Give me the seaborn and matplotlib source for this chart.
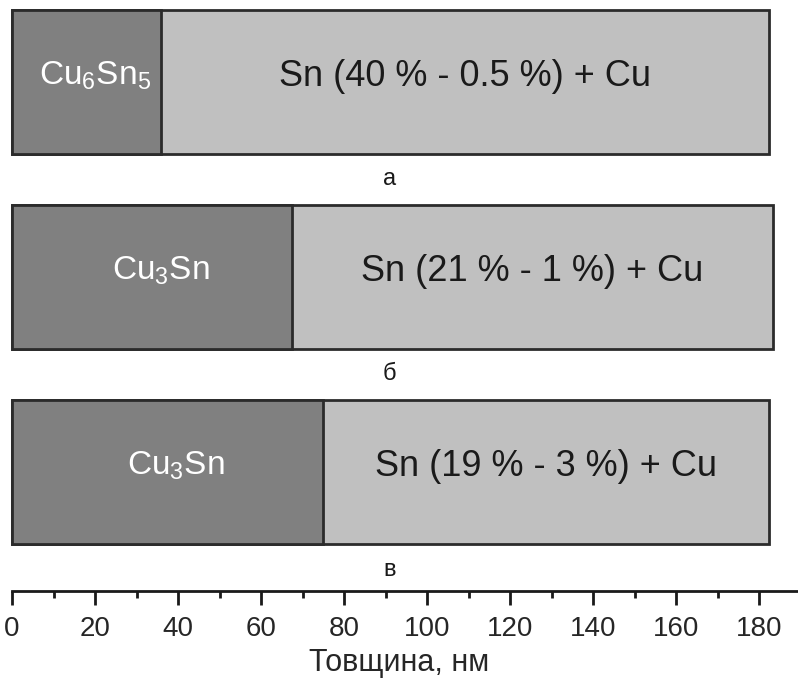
import numpy as np
import pandas as pd
import matplotlib
matplotlib.use("Agg")
import matplotlib.pyplot as plt
from matplotlib.ticker import MultipleLocator
import seaborn as sns

# layer data (nm)
samples = ["а", "б", "в"]
phase_labels = ["Cu$_6$Sn$_5$", "Cu$_3$Sn", "Cu$_3$Sn"]
phase_thickness = [36, 67.5, 75]
total_thickness = [182.5, 183.3, 182.5]
rest_labels = ["Sn (40 % - 0.5 %) + Cu", "Sn (21 % - 1 %) + Cu", "Sn (19 % - 3 %) + Cu"]

sns.set_style("white")
plt.rcParams["font.family"] = ["Liberation Sans", "DejaVu Sans"]
plt.rcParams["mathtext.default"] = "regular"

df = pd.DataFrame({"sample": samples, "phase": phase_thickness, "total": total_thickness})

fig = plt.figure(figsize=(7.98, 6.84), dpi=100)
ax = fig.add_axes([0, 93 / 684, 1, 591 / 684])

edge = "#2b2b2b"
sns.barplot(data=df, x="total", y="sample", orient="h", color="#c0c0c0", saturation=1,
            width=0.74, edgecolor=edge, linewidth=2, ax=ax)
sns.barplot(data=df, x="phase", y="sample", orient="h", color="#808080", saturation=1,
            width=0.74, edgecolor=edge, linewidth=2, ax=ax)

for i in range(len(samples)):
    ax.text(phase_thickness[i] / 2 + 2, i - 0.03, phase_labels[i], color="white",
            fontsize=24, ha="center", va="center")
    ax.text((phase_thickness[i] + total_thickness[i]) / 2, i - 0.03, rest_labels[i],
            color="#1a1a1a", fontsize=26, ha="center", va="center")
    ax.text(91, i + 0.5, samples[i], fontsize=17, ha="center", va="center", color="#1a1a1a")

ax.set_xlim(-12 / 4.15, (798 - 12) / 4.15)
ax.set_ylim(2.61, -0.42)
ax.set_yticks([])
ax.set_ylabel("")
ax.xaxis.set_major_locator(MultipleLocator(20))
ax.xaxis.set_minor_locator(MultipleLocator(10))
ax.set_xticks(np.arange(0, 181, 20))
ax.tick_params(axis="x", which="major", direction="out", length=10, width=2,
               labelsize=20, pad=8, bottom=True, color="#1a1a1a")
ax.tick_params(axis="x", which="minor", direction="out", length=5, width=2,
               bottom=True, color="#1a1a1a")
ax.set_xlabel("Товщина, нм", fontsize=22, labelpad=4)
for s in ["top", "left", "right"]:
    ax.spines[s].set_visible(False)
ax.spines["bottom"].set_linewidth(2)
ax.spines["bottom"].set_color("#1a1a1a")
ax.spines["bottom"].set_bounds(0, 190)

fig.savefig("out.png", dpi=100)
